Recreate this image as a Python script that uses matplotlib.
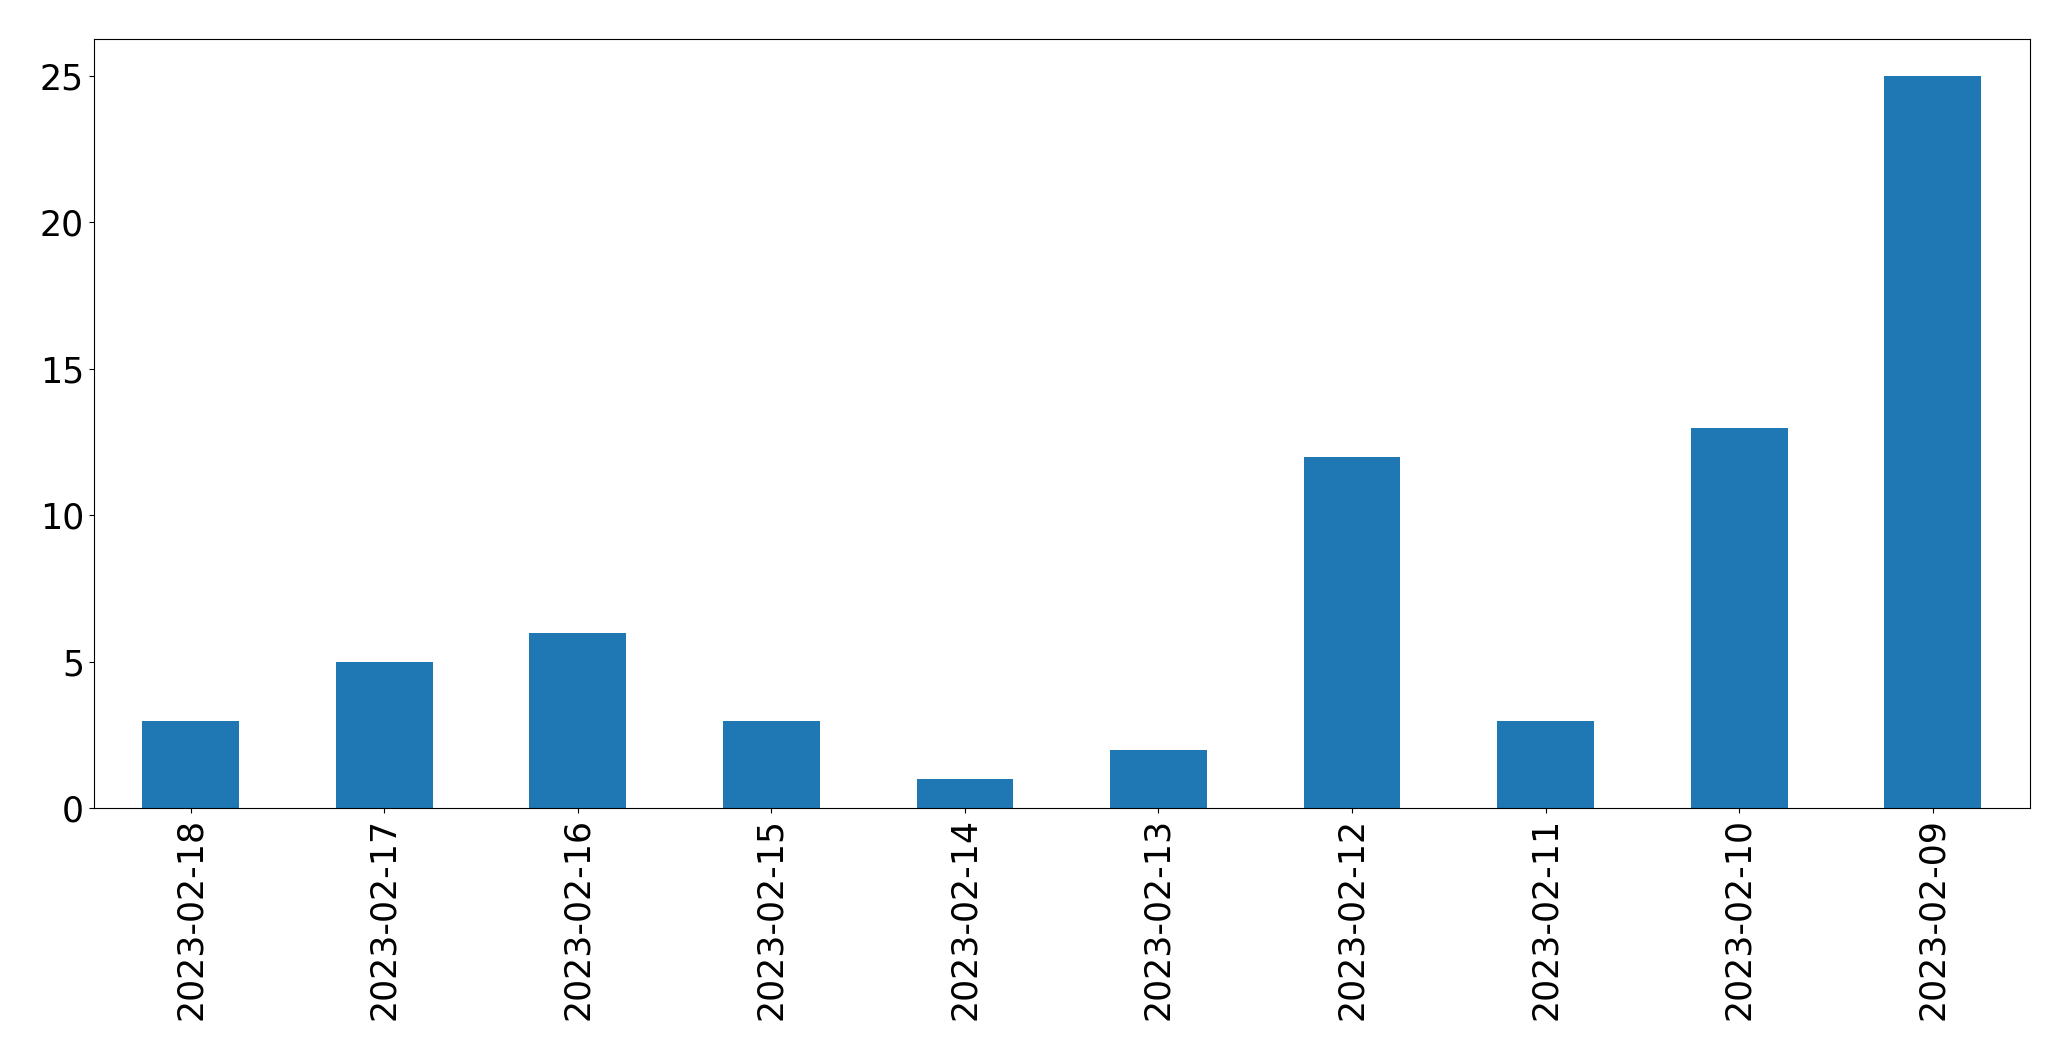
import pandas as pd
import matplotlib.pyplot as plt

dates = ["2023-02-18", "2023-02-17", "2023-02-16", "2023-02-15", "2023-02-14",
         "2023-02-13", "2023-02-12", "2023-02-11", "2023-02-10", "2023-02-09"]
counts = [3, 5, 6, 3, 1, 2, 12, 3, 13, 25]

s = pd.Series(counts, index=dates)

fig = plt.figure(figsize=(20.71, 10.61), dpi=100)
ax = fig.add_axes([0.0453, 0.238, 0.9347, 0.725])
s.plot(kind="bar", ax=ax, color="#1f77b4")
ax.tick_params(axis="both", labelsize=25)
fig.savefig("out.png", dpi=100)
